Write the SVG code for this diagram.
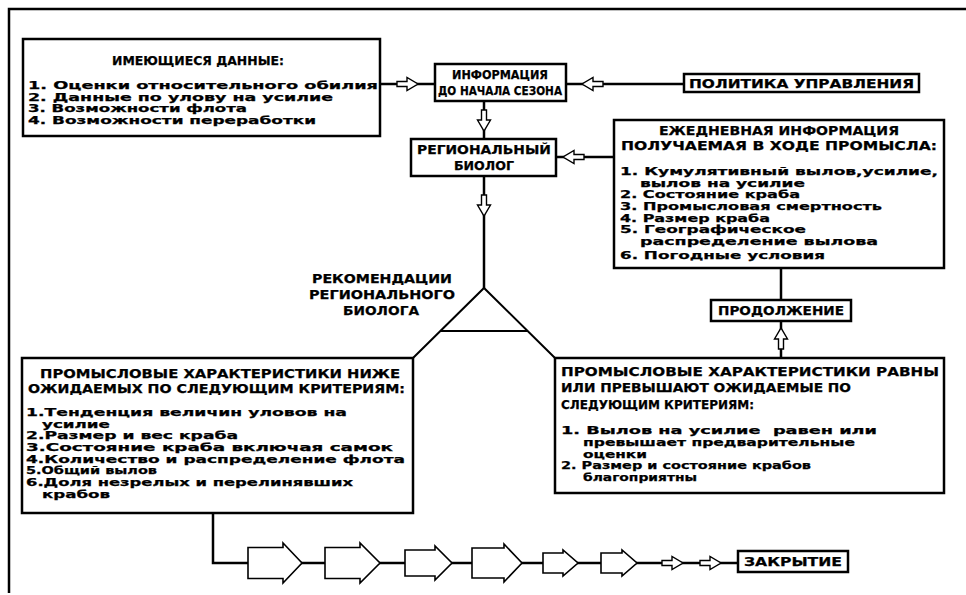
<svg xmlns="http://www.w3.org/2000/svg" xmlns:xlink="http://www.w3.org/1999/xlink" width="966" height="595" viewBox="0 0 966 595">
  <style>
    .box { fill: #fff; stroke: #000; stroke-width: 2.5; }
    .ln { fill: none; stroke: #000; stroke-width: 2.5; }
    .thin { fill: none; stroke: #000; stroke-width: 2; }
    .ha { fill: #fff; stroke: #000; stroke-width: 1.4; stroke-linejoin: miter; }
    .ba { fill: #fff; stroke: #000; stroke-width: 1.6; stroke-linejoin: miter; }
    text { font-family: "DejaVu Sans", "Liberation Sans", sans-serif; font-weight: bold; fill: #000; stroke: #000; stroke-width: 0.25; }
    .t { font-size: 12px; }
    .i { font-size: 10px; }
    .c { text-anchor: middle; }
  </style>
  <defs>
    <!-- small hollow arrow, tip at origin, pointing right -->
    <path id="harrow" class="ha" d="M-21,-2.5 H-11 V-6.5 L0,0 L-11,6.5 V2.5 H-21 Z"/>
  </defs>
  <rect width="966" height="595" fill="#fff"/>
  <!-- page frame -->
  <path class="ln" d="M9,593 V9 H966"/>

  <g id="connectors">
    <!-- available data -> pre-season information -->
    <path class="ln" d="M380,84 H435"/>
    <use xlink:href="#harrow" transform="translate(418,84)"/>
    <!-- management policy -> pre-season information -->
    <path class="ln" d="M566,84 H684"/>
    <use xlink:href="#harrow" transform="translate(582,84) rotate(180)"/>
    <!-- pre-season information -> regional biologist -->
    <path class="ln" d="M484,101 V139"/>
    <use xlink:href="#harrow" transform="translate(484,131) rotate(90)"/>
    <!-- daily information -> regional biologist -->
    <path class="ln" d="M556,157 H614"/>
    <use xlink:href="#harrow" transform="translate(563,157) rotate(180)"/>
    <!-- regional biologist -> recommendations -->
    <path class="ln" d="M484,176 V288"/>
    <use xlink:href="#harrow" transform="translate(484,216) rotate(90)"/>
    <!-- recommendation fork -->
    <path class="thin" d="M413,358 L484,288 L555,358 M441,331 H527"/>
    <!-- daily information -> continuation -->
    <path class="ln" d="M781,268 V300"/>
    <!-- favourable branch -> continuation -->
    <path class="ln" d="M781,358 V321"/>
    <use xlink:href="#harrow" transform="translate(781,328) rotate(-90)"/>
    <!-- unfavourable branch -> closure chain -->
    <path class="ln" d="M213,513 V563 H738"/>
    <path class="ba" d="M248,547.5 H283 V543 L302,563 L283,583 V578.5 H248 Z"/>
    <path class="ba" d="M325,547.5 H360 V543 L380,563 L360,583 V578.5 H325 Z"/>
    <path class="ba" d="M405,550 H435 V546 L452,563 L435,580 V576 H405 Z"/>
    <path class="ba" d="M472,548 H504 V544 L522,563 L504,582 V578 H472 Z"/>
    <path class="ba" d="M543,553 H563 V550 L578,563 L563,576 V573 H543 Z"/>
    <path class="ba" d="M601,553 H622 V550 L637,563 L622,576 V573 H601 Z"/>
    <use xlink:href="#harrow" transform="translate(683,563)"/>
    <use xlink:href="#harrow" transform="translate(721,563)"/>
  </g>

  <g id="available-data">
    <rect class="box" x="23" y="39" width="357" height="97"/>
    <text class="t" x="112" y="65" textLength="172" lengthAdjust="spacingAndGlyphs">ИМЕЮЩИЕСЯ ДАННЫЕ:</text>
    <text class="i" x="28" y="89" textLength="350" lengthAdjust="spacingAndGlyphs">1. Оценки относительного обилия</text>
    <text class="i" x="28" y="100.7" textLength="305" lengthAdjust="spacingAndGlyphs">2. Данные по улову на усилие</text>
    <text class="i" x="28" y="112.4" textLength="219" lengthAdjust="spacingAndGlyphs">3. Возможности флота</text>
    <text class="i" x="28" y="124" textLength="288" lengthAdjust="spacingAndGlyphs">4. Возможности переработки</text>
  </g>

  <g id="pre-season">
    <rect class="box" x="435" y="64" width="131" height="37"/>
    <text class="t c" x="500" y="79" textLength="96" lengthAdjust="spacingAndGlyphs">ИНФОРМАЦИЯ</text>
    <text class="t c" x="500" y="95" textLength="124" lengthAdjust="spacingAndGlyphs">ДО НАЧАЛА СЕЗОНА</text>
  </g>

  <g id="policy">
    <rect class="box" x="684" y="74" width="235" height="18"/>
    <text class="t" x="689" y="88" textLength="225" lengthAdjust="spacingAndGlyphs">ПОЛИТИКА УПРАВЛЕНИЯ</text>
  </g>

  <g id="regional-biologist">
    <rect class="box" x="411" y="139" width="145" height="37"/>
    <text class="t c" x="484" y="154" textLength="134" lengthAdjust="spacingAndGlyphs">РЕГИОНАЛЬНЫЙ</text>
    <text class="t c" x="484" y="170" textLength="60" lengthAdjust="spacingAndGlyphs">БИОЛОГ</text>
  </g>

  <g id="daily-info">
    <rect class="box" x="614" y="120" width="330" height="148"/>
    <text class="t c" x="779" y="135" textLength="240" lengthAdjust="spacingAndGlyphs">ЕЖЕДНЕВНАЯ ИНФОРМАЦИЯ</text>
    <text class="t c" x="779" y="150" textLength="316" lengthAdjust="spacingAndGlyphs">ПОЛУЧАЕМАЯ В ХОДЕ ПРОМЫСЛА:</text>
    <text class="i" x="620" y="175" textLength="318" lengthAdjust="spacingAndGlyphs">1. Кумулятивный вылов,усилие,</text>
    <text class="i" x="640" y="186.7" textLength="165" lengthAdjust="spacingAndGlyphs">вылов на усилие</text>
    <text class="i" x="620" y="198.4" textLength="180" lengthAdjust="spacingAndGlyphs">2. Состояние краба</text>
    <text class="i" x="620" y="210" textLength="262" lengthAdjust="spacingAndGlyphs">3. Промысловая смертность</text>
    <text class="i" x="620" y="221.7" textLength="150" lengthAdjust="spacingAndGlyphs">4. Размер краба</text>
    <text class="i" x="620" y="233.4" textLength="186" lengthAdjust="spacingAndGlyphs">5. Географическое</text>
    <text class="i" x="640" y="245" textLength="238" lengthAdjust="spacingAndGlyphs">распределение вылова</text>
    <text class="i" x="620" y="258.5" textLength="205" lengthAdjust="spacingAndGlyphs">6. Погодные условия</text>
  </g>

  <g id="recommendations">
    <text class="t c" x="382" y="283" textLength="140" lengthAdjust="spacingAndGlyphs">РЕКОМЕНДАЦИИ</text>
    <text class="t c" x="382" y="299" textLength="146" lengthAdjust="spacingAndGlyphs">РЕГИОНАЛЬНОГО</text>
    <text class="t c" x="381" y="315" textLength="76" lengthAdjust="spacingAndGlyphs">БИОЛОГА</text>
  </g>

  <g id="below-expected">
    <rect class="box" x="22" y="358" width="391" height="155"/>
    <text class="t" x="40" y="378" textLength="360" lengthAdjust="spacingAndGlyphs">ПРОМЫСЛОВЫЕ ХАРАКТЕРИСТИКИ НИЖЕ</text>
    <text class="t" x="28" y="393" textLength="377" lengthAdjust="spacingAndGlyphs">ОЖИДАЕМЫХ ПО СЛЕДУЮЩИМ КРИТЕРИЯМ:</text>
    <text class="i" x="26" y="416" textLength="321" lengthAdjust="spacingAndGlyphs">1.Тенденция величин уловов на</text>
    <text class="i" x="42" y="427.7" textLength="68" lengthAdjust="spacingAndGlyphs">усилие</text>
    <text class="i" x="26" y="439.4" textLength="212" lengthAdjust="spacingAndGlyphs">2.Размер и вес краба</text>
    <text class="i" x="26" y="451" textLength="367" lengthAdjust="spacingAndGlyphs">3.Состояние краба включая самок</text>
    <text class="i" x="26" y="462.7" textLength="379" lengthAdjust="spacingAndGlyphs">4.Количество и распределение флота</text>
    <text class="i" x="26" y="474.4" textLength="131" lengthAdjust="spacingAndGlyphs">5.Общий вылов</text>
    <text class="i" x="26" y="486" textLength="327" lengthAdjust="spacingAndGlyphs">6.Доля незрелых и перелинявших</text>
    <text class="i" x="42" y="497.7" textLength="68" lengthAdjust="spacingAndGlyphs">крабов</text>
  </g>

  <g id="continuation">
    <rect class="box" x="711" y="300" width="140" height="21"/>
    <text class="t c" x="781" y="315" textLength="126" lengthAdjust="spacingAndGlyphs">ПРОДОЛЖЕНИЕ</text>
  </g>

  <g id="at-or-above-expected">
    <rect class="box" x="555" y="358" width="389" height="135"/>
    <text class="t" x="561" y="376" textLength="378" lengthAdjust="spacingAndGlyphs">ПРОМЫСЛОВЫЕ ХАРАКТЕРИСТИКИ РАВНЫ</text>
    <text class="t" x="561" y="392" textLength="290" lengthAdjust="spacingAndGlyphs">ИЛИ ПРЕВЫШАЮТ ОЖИДАЕМЫЕ ПО</text>
    <text class="t" x="561" y="409" textLength="193" lengthAdjust="spacingAndGlyphs">СЛЕДУЮЩИМ КРИТЕРИЯМ:</text>
    <text class="i" x="561" y="434" textLength="316" lengthAdjust="spacingAndGlyphs" xml:space="preserve">1. Вылов на усилие  равен или</text>
    <text class="i" x="583" y="445.8" textLength="272" lengthAdjust="spacingAndGlyphs">превышает предварительные</text>
    <text class="i" x="583" y="457.5" textLength="64" lengthAdjust="spacingAndGlyphs">оценки</text>
    <text class="i" x="561" y="469.3" textLength="250" lengthAdjust="spacingAndGlyphs">2. Размер и состояние крабов</text>
    <text class="i" x="583" y="481" textLength="114" lengthAdjust="spacingAndGlyphs">благоприятны</text>
  </g>

  <g id="closure">
    <rect class="box" x="738" y="551" width="110" height="21"/>
    <text class="t c" x="793" y="566" textLength="98" lengthAdjust="spacingAndGlyphs">ЗАКРЫТИЕ</text>
  </g>
</svg>
